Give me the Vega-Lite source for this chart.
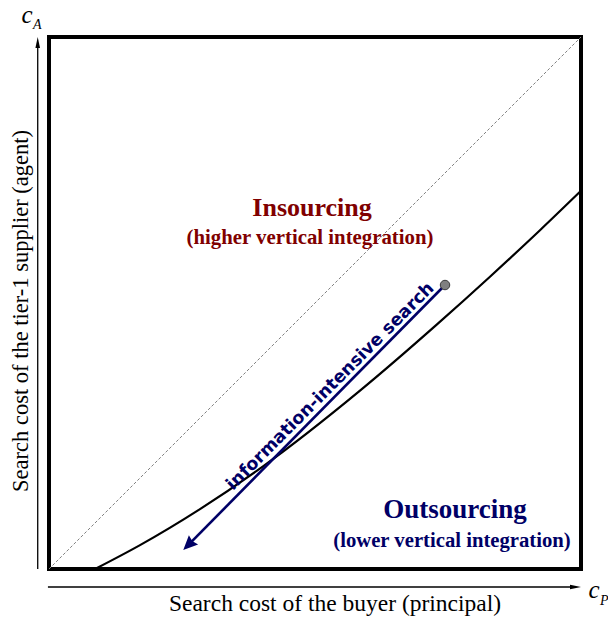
{
  "$schema": "https://vega.github.io/schema/vega-lite/v6.json",
  "width": 532,
  "height": 532,
  "padding": {"left": 49, "top": 37, "right": 27, "bottom": 50},
  "autosize": {"type": "none"},
  "background": "white",
  "config": {"view": {"stroke": "black", "strokeWidth": 4}},
  "datasets": {
    "diag": [{"x": 0, "y": 0, "x2": 100, "y2": 100}],
    "curve": [
      {"x": 8.65, "y": 0},
      {"x": 17.11, "y": 4.49},
      {"x": 28.38, "y": 11.26},
      {"x": 40.23, "y": 19.3},
      {"x": 58.46, "y": 33.53},
      {"x": 72.93, "y": 45.98},
      {"x": 82.89, "y": 54.94},
      {"x": 92.29, "y": 63.68},
      {"x": 100, "y": 71.09}
    ],
    "arrow": [{"x": 74.44, "y": 53.38, "x2": 26.2, "y2": 4.53}],
    "head": [{"x": 26.2, "y": 4.53}],
    "dot": [{"x": 74.44, "y": 53.38}],
    "axes": [
      {"x": -2.12, "y": 0, "x2": -2.12, "y2": 98},
      {"x": -0.2, "y": -3.38, "x2": 98, "y2": -3.38}
    ],
    "yhead": [{"x": -2.12, "y": 98.97}],
    "xhead": [{"x": 98.97, "y": -3.38}],
    "search": [{"x": 53.57, "y": 33.65, "t": "information-intensive search"}],
    "inTitle": [{"x": 49.44, "y": 66.35, "t": "Insourcing"}],
    "inSub": [{"x": 49.06, "y": 61.09, "t": "(higher vertical integration)"}],
    "outTitle": [{"x": 76.32, "y": 9.59, "t": "Outsourcing"}],
    "outSub": [{"x": 75.75, "y": 4.14, "t": "(lower vertical integration)"}],
    "xTitle": [{"x": 53.76, "y": -7.9, "t": "Search cost of the buyer (principal)"}],
    "yTitle": [{"x": -3.95, "y": 48.5, "t": "Search cost of the tier-1 supplier  (agent)"}],
    "cSym": [
      {"x": -4.14, "y": 102.63, "t": "c"},
      {"x": 102.44, "y": -5.45, "t": "c"}
    ],
    "sub": [
      {"x": -3.0, "y": 101.5, "t": "A"},
      {"x": 103.57, "y": -6.77, "t": "P"}
    ]
  },
  "layer": [
    {
      "data": {"name": "diag"},
      "mark": {"type": "rule", "color": "#808080", "strokeWidth": 1, "strokeDash": [3, 2]},
      "encoding": {
        "x": {"field": "x", "type": "quantitative", "scale": {"domain": [0, 100], "nice": false, "zero": false}, "axis": null},
        "y": {"field": "y", "type": "quantitative", "scale": {"domain": [0, 100], "nice": false, "zero": false}, "axis": null},
        "x2": {"field": "x2"},
        "y2": {"field": "y2"}
      }
    },
    {
      "data": {"name": "curve"},
      "mark": {"type": "line", "color": "black", "strokeWidth": 2.2, "interpolate": "monotone"},
      "encoding": {
        "x": {"field": "x", "type": "quantitative", "scale": {"domain": [0, 100], "nice": false, "zero": false}, "axis": null},
        "y": {"field": "y", "type": "quantitative", "scale": {"domain": [0, 100], "nice": false, "zero": false}, "axis": null}
      }
    },
    {
      "data": {"name": "arrow"},
      "mark": {"type": "rule", "color": "#000066", "strokeWidth": 2.6},
      "encoding": {
        "x": {"field": "x", "type": "quantitative", "scale": {"domain": [0, 100], "nice": false, "zero": false}, "axis": null},
        "y": {"field": "y", "type": "quantitative", "scale": {"domain": [0, 100], "nice": false, "zero": false}, "axis": null},
        "x2": {"field": "x2"},
        "y2": {"field": "y2"}
      }
    },
    {
      "data": {"name": "head"},
      "mark": {"type": "point", "shape": "M0,-1L0.9,1L0,0.75L-0.9,1Z", "filled": true, "color": "#000066", "opacity": 1, "size": 210, "angle": 225},
      "encoding": {
        "x": {"field": "x", "type": "quantitative", "scale": {"domain": [0, 100], "nice": false, "zero": false}, "axis": null},
        "y": {"field": "y", "type": "quantitative", "scale": {"domain": [0, 100], "nice": false, "zero": false}, "axis": null}
      }
    },
    {
      "data": {"name": "dot"},
      "mark": {"type": "point", "shape": "circle", "filled": true, "fill": "#808080", "stroke": "#3a3a3a", "strokeWidth": 1, "opacity": 1, "size": 90},
      "encoding": {
        "x": {"field": "x", "type": "quantitative", "scale": {"domain": [0, 100], "nice": false, "zero": false}, "axis": null},
        "y": {"field": "y", "type": "quantitative", "scale": {"domain": [0, 100], "nice": false, "zero": false}, "axis": null}
      }
    },
    {
      "data": {"name": "axes"},
      "mark": {"type": "rule", "color": "black", "strokeWidth": 1.3},
      "encoding": {
        "x": {"field": "x", "type": "quantitative", "scale": {"domain": [0, 100], "nice": false, "zero": false}, "axis": null},
        "y": {"field": "y", "type": "quantitative", "scale": {"domain": [0, 100], "nice": false, "zero": false}, "axis": null},
        "x2": {"field": "x2"},
        "y2": {"field": "y2"}
      }
    },
    {
      "data": {"name": "yhead"},
      "mark": {"type": "point", "shape": "M0,-1L0.42,1L-0.42,1Z", "filled": true, "color": "black", "opacity": 1, "size": 121},
      "encoding": {
        "x": {"field": "x", "type": "quantitative", "scale": {"domain": [0, 100], "nice": false, "zero": false}, "axis": null},
        "y": {"field": "y", "type": "quantitative", "scale": {"domain": [0, 100], "nice": false, "zero": false}, "axis": null}
      }
    },
    {
      "data": {"name": "xhead"},
      "mark": {"type": "point", "shape": "M0,-1L0.42,1L-0.42,1Z", "filled": true, "color": "black", "opacity": 1, "size": 121, "angle": 90},
      "encoding": {
        "x": {"field": "x", "type": "quantitative", "scale": {"domain": [0, 100], "nice": false, "zero": false}, "axis": null},
        "y": {"field": "y", "type": "quantitative", "scale": {"domain": [0, 100], "nice": false, "zero": false}, "axis": null}
      }
    },
    {
      "data": {"name": "search"},
      "mark": {"type": "text", "font": "DejaVu Sans", "fontWeight": "bold", "fontSize": 17.5, "color": "#000066", "angle": -45, "align": "center", "baseline": "alphabetic"},
      "encoding": {
        "x": {"field": "x", "type": "quantitative", "scale": {"domain": [0, 100], "nice": false, "zero": false}, "axis": null},
        "y": {"field": "y", "type": "quantitative", "scale": {"domain": [0, 100], "nice": false, "zero": false}, "axis": null},
        "text": {"field": "t"}
      }
    },
    {
      "data": {"name": "inTitle"},
      "mark": {"type": "text", "font": "Liberation Serif", "fontWeight": "bold", "fontSize": 26, "color": "#800000", "align": "center", "baseline": "alphabetic"},
      "encoding": {
        "x": {"field": "x", "type": "quantitative", "scale": {"domain": [0, 100], "nice": false, "zero": false}, "axis": null},
        "y": {"field": "y", "type": "quantitative", "scale": {"domain": [0, 100], "nice": false, "zero": false}, "axis": null},
        "text": {"field": "t"}
      }
    },
    {
      "data": {"name": "inSub"},
      "mark": {"type": "text", "font": "Liberation Serif", "fontWeight": "bold", "fontSize": 20.8, "color": "#800000", "align": "center", "baseline": "alphabetic"},
      "encoding": {
        "x": {"field": "x", "type": "quantitative", "scale": {"domain": [0, 100], "nice": false, "zero": false}, "axis": null},
        "y": {"field": "y", "type": "quantitative", "scale": {"domain": [0, 100], "nice": false, "zero": false}, "axis": null},
        "text": {"field": "t"}
      }
    },
    {
      "data": {"name": "outTitle"},
      "mark": {"type": "text", "font": "Liberation Serif", "fontWeight": "bold", "fontSize": 27, "color": "#000066", "align": "center", "baseline": "alphabetic"},
      "encoding": {
        "x": {"field": "x", "type": "quantitative", "scale": {"domain": [0, 100], "nice": false, "zero": false}, "axis": null},
        "y": {"field": "y", "type": "quantitative", "scale": {"domain": [0, 100], "nice": false, "zero": false}, "axis": null},
        "text": {"field": "t"}
      }
    },
    {
      "data": {"name": "outSub"},
      "mark": {"type": "text", "font": "Liberation Serif", "fontWeight": "bold", "fontSize": 20.7, "color": "#000066", "align": "center", "baseline": "alphabetic"},
      "encoding": {
        "x": {"field": "x", "type": "quantitative", "scale": {"domain": [0, 100], "nice": false, "zero": false}, "axis": null},
        "y": {"field": "y", "type": "quantitative", "scale": {"domain": [0, 100], "nice": false, "zero": false}, "axis": null},
        "text": {"field": "t"}
      }
    },
    {
      "data": {"name": "xTitle"},
      "mark": {"type": "text", "font": "Liberation Serif", "fontSize": 23.5, "color": "black", "align": "center", "baseline": "alphabetic"},
      "encoding": {
        "x": {"field": "x", "type": "quantitative", "scale": {"domain": [0, 100], "nice": false, "zero": false}, "axis": null},
        "y": {"field": "y", "type": "quantitative", "scale": {"domain": [0, 100], "nice": false, "zero": false}, "axis": null},
        "text": {"field": "t"}
      }
    },
    {
      "data": {"name": "yTitle"},
      "mark": {"type": "text", "font": "Liberation Serif", "fontSize": 22.5, "color": "black", "align": "center", "baseline": "alphabetic", "angle": 270},
      "encoding": {
        "x": {"field": "x", "type": "quantitative", "scale": {"domain": [0, 100], "nice": false, "zero": false}, "axis": null},
        "y": {"field": "y", "type": "quantitative", "scale": {"domain": [0, 100], "nice": false, "zero": false}, "axis": null},
        "text": {"field": "t"}
      }
    },
    {
      "data": {"name": "cSym"},
      "mark": {"type": "text", "font": "Liberation Serif", "fontStyle": "italic", "fontSize": 25, "color": "black", "align": "center", "baseline": "alphabetic"},
      "encoding": {
        "x": {"field": "x", "type": "quantitative", "scale": {"domain": [0, 100], "nice": false, "zero": false}, "axis": null},
        "y": {"field": "y", "type": "quantitative", "scale": {"domain": [0, 100], "nice": false, "zero": false}, "axis": null},
        "text": {"field": "t"}
      }
    },
    {
      "data": {"name": "sub"},
      "mark": {"type": "text", "font": "Liberation Serif", "fontStyle": "italic", "fontSize": 14, "color": "black", "align": "left", "baseline": "alphabetic"},
      "encoding": {
        "x": {"field": "x", "type": "quantitative", "scale": {"domain": [0, 100], "nice": false, "zero": false}, "axis": null},
        "y": {"field": "y", "type": "quantitative", "scale": {"domain": [0, 100], "nice": false, "zero": false}, "axis": null},
        "text": {"field": "t"}
      }
    }
  ]
}
